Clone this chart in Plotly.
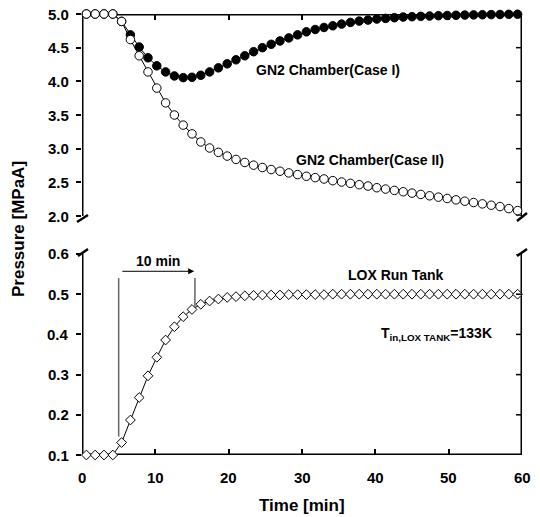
import plotly.graph_objects as go

# ---------------- data ----------------
time_min = [round(0.6 + 1.2 * k, 1) for k in range(50)]

case1_mpa = [5.0, 5.0, 5.0, 5.0, 4.89, 4.69, 4.51, 4.35, 4.23, 4.14,
             4.08, 4.055, 4.06, 4.09, 4.14, 4.20, 4.26, 4.32, 4.38, 4.44,
             4.50, 4.55, 4.60, 4.645, 4.69, 4.735, 4.77, 4.80, 4.825, 4.85,
             4.875, 4.895, 4.91, 4.925, 4.935, 4.945, 4.955, 4.96, 4.965, 4.97,
             4.975, 4.978, 4.981, 4.984, 4.987, 4.989, 4.991, 4.993, 4.995, 4.997]

case2_mpa = [5.0, 5.0, 5.0, 5.0, 4.89, 4.62, 4.38, 4.14, 3.90, 3.68,
             3.50, 3.35, 3.22, 3.10, 3.01, 2.945, 2.89, 2.84, 2.795, 2.755,
             2.72, 2.69, 2.665, 2.64, 2.615, 2.59, 2.57, 2.55, 2.525, 2.505,
             2.485, 2.465, 2.445, 2.42, 2.40, 2.38, 2.36, 2.34, 2.32, 2.30,
             2.28, 2.26, 2.24, 2.22, 2.20, 2.18, 2.16, 2.14, 2.11, 2.08]

lox_mpa = [0.1, 0.1, 0.1, 0.1, 0.131, 0.187, 0.243, 0.297, 0.343, 0.386,
           0.419, 0.444, 0.462, 0.475, 0.483, 0.488, 0.492, 0.494, 0.496, 0.497,
           0.498, 0.498, 0.498, 0.499, 0.499, 0.499, 0.499, 0.499, 0.5, 0.5,
           0.5, 0.5, 0.5, 0.5, 0.5, 0.5, 0.5, 0.5, 0.5, 0.5,
           0.5, 0.5, 0.5, 0.5, 0.5, 0.5, 0.5, 0.5, 0.5, 0.5]

x_ticks = [0, 10, 20, 30, 40, 50, 60]
top_ticks = [2.0, 2.5, 3.0, 3.5, 4.0, 4.5, 5.0]
bottom_ticks = [0.1, 0.2, 0.3, 0.4, 0.5, 0.6]

x_range = [0, 60]
top_range = [2.0, 5.0]
bottom_range = [0.1, 0.6]

# "10 min" guide (time, pressure)
guide_start = 5.0
guide_end = 15.4
guide_top = 0.54
guide_start_bottom = 0.146
guide_end_bottom = 0.467
arrow_y = 0.557

# ---------------- figure ----------------
OFF = 8  # page body margin
W, H = 540 - OFF, 517 - OFF
ML, MR, MT = 82 - OFF, 18, 14 - OFF
PW, PH = W - ML - MR, 441
MB = H - MT - PH


def paper(px, py):
    # px, py are window pixel positions
    return (px - OFF - ML) / PW, (MT + PH - (py - OFF)) / PH


top_dom = [paper(0, 216)[1], 1.0]
bot_dom = [0.0, paper(0, 254)[1]]

FONT = "Liberation Sans, Arial, sans-serif"

fig = go.Figure()

# panel frames (open-bottom box on top panel, open-top box on bottom panel)
fig.add_trace(go.Scatter(
    x=[x_range[0], x_range[0], x_range[1], x_range[1]],
    y=[top_range[0], top_range[1], top_range[1], top_range[0]],
    xaxis="x2", yaxis="y2", mode="lines",
    line=dict(color="black", width=3), cliponaxis=False,
    showlegend=False, hoverinfo="skip"))
fig.add_trace(go.Scatter(
    x=[x_range[0], x_range[0], x_range[1], x_range[1]],
    y=[bottom_range[1], bottom_range[0], bottom_range[0], bottom_range[1]],
    xaxis="x", yaxis="y", mode="lines",
    line=dict(color="black", width=3), cliponaxis=False,
    showlegend=False, hoverinfo="skip"))

fig.add_trace(go.Scatter(
    x=time_min, y=case1_mpa, xaxis="x2", yaxis="y2", mode="lines+markers",
    line=dict(color="black", width=1),
    marker=dict(symbol="circle", size=8.5, color="black",
                line=dict(color="black", width=1)),
    cliponaxis=False, showlegend=False))

fig.add_trace(go.Scatter(
    x=time_min, y=case2_mpa, xaxis="x2", yaxis="y2", mode="lines+markers",
    line=dict(color="black", width=1),
    marker=dict(symbol="circle", size=8.5, color="white",
                line=dict(color="black", width=1)),
    cliponaxis=False, showlegend=False))

fig.add_trace(go.Scatter(
    x=time_min, y=lox_mpa, xaxis="x", yaxis="y", mode="lines+markers",
    line=dict(color="black", width=1),
    marker=dict(symbol="diamond", size=7.5, color="white",
                line=dict(color="black", width=1)),
    cliponaxis=False, showlegend=False))

common_axis = dict(showline=False, showgrid=False, zeroline=False,
                   automargin=False, tickcolor="black", tickwidth=1.5,
                   showticklabels=False)

fig.update_layout(
    width=W, height=H,
    margin=dict(l=ML, r=MR, t=MT, b=MB),
    paper_bgcolor="white", plot_bgcolor="white",
    font=dict(family=FONT, color="black"),
    xaxis=dict(domain=[0, 1], range=x_range, anchor="y", side="bottom",
               tickvals=x_ticks, ticks="inside", ticklen=6, **common_axis),
    xaxis2=dict(domain=[0, 1], range=x_range, anchor="y2", side="top",
                tickvals=x_ticks, ticks="inside", ticklen=6, **common_axis),
    yaxis=dict(domain=bot_dom, range=bottom_range, anchor="x", side="left",
               tickvals=bottom_ticks, ticks="outside", ticklen=5,
               **common_axis),
    yaxis2=dict(domain=top_dom, range=top_range, anchor="x2", side="left",
                tickvals=top_ticks, ticks="outside", ticklen=5,
                **common_axis),
)

afont = dict(family=FONT, size=14, color="black", weight="bold")
tfont = dict(family=FONT, size=17, color="black", weight="bold")
kfont = dict(family=FONT, size=15, color="black", weight="bold")
annotations = [
    dict(x=33.5, y=4.17, xref="x2", yref="y2", text="<b>GN2 Chamber(Case I)</b>",
         showarrow=False, font=afont),
    dict(x=39.3, y=2.83, xref="x2", yref="y2", text="<b>GN2 Chamber(Case II)</b>",
         showarrow=False, font=afont),
    dict(x=42.75, y=0.548, xref="x", yref="y", text="<b>LOX Run Tank</b>",
         showarrow=False, font=afont),
    dict(x=48.3, y=0.402, xref="x", yref="y",
         text="<b>T<sub>in,LOX TANK</sub>=133K</b>", showarrow=False, font=afont),
    dict(x=10.4, y=0.583, xref="x", yref="y", text="<b>10 min</b>",
         showarrow=False, font=afont),
    dict(x=guide_end - 0.1, y=arrow_y, xref="x", yref="y",
         ax=guide_start + 0.3, ay=arrow_y, axref="x", ayref="y",
         text="", showarrow=True, arrowhead=2, arrowsize=1.2,
         arrowwidth=1, arrowcolor="black"),
    dict(x=paper(19, 0)[0], y=paper(0, 229)[1], xref="paper", yref="paper",
         xanchor="center", yanchor="middle",
         text="<b>Pressure [MPaA]</b>", textangle=-90, showarrow=False,
         font=tfont),
    dict(x=paper(302, 0)[0], y=paper(0, 505)[1], xref="paper", yref="paper",
         xanchor="center", yanchor="middle",
         text="<b>Time [min]</b>", showarrow=False, font=tfont),
]

# tick labels (bold) placed at the tick values
lab_x = paper(71, 0)[0]
for v in top_ticks:
    annotations.append(dict(x=lab_x, y=v, xref="paper", yref="y2",
                            xanchor="right", yanchor="middle",
                            text=f"<b>{v:.1f}</b>", showarrow=False,
                            font=kfont))
for v in bottom_ticks:
    annotations.append(dict(x=lab_x, y=v, xref="paper", yref="y",
                            xanchor="right", yanchor="middle",
                            text=f"<b>{v:.1f}</b>", showarrow=False,
                            font=kfont))
lab_y = paper(0, 477)[1]
for v in x_ticks:
    annotations.append(dict(x=v, y=lab_y, xref="x", yref="paper",
                            xanchor="center", yanchor="middle",
                            text=f"<b>{v}</b>", showarrow=False, font=kfont))
fig.update_layout(annotations=annotations)

shapes = [
    dict(type="line", xref="x", yref="y", x0=guide_start, x1=guide_start,
         y0=guide_start_bottom, y1=guide_top,
         line=dict(color="#666666", width=1.5)),
    dict(type="line", xref="x", yref="y", x0=guide_end, x1=guide_end,
         y0=guide_end_bottom, y1=guide_top,
         line=dict(color="#666666", width=1.5)),
]

# inward ticks on the right-hand axes
rt = 6 / PW
for v in top_ticks:
    shapes.append(dict(type="line", xref="x2 domain", yref="y2",
                       x0=1 - rt, x1=1, y0=v, y1=v,
                       line=dict(color="black", width=1.5)))
for v in bottom_ticks:
    shapes.append(dict(type="line", xref="x domain", yref="y",
                       x0=1 - rt, x1=1, y0=v, y1=v,
                       line=dict(color="black", width=1.5)))

# axis break marks
for (x0p, y0p, x1p, y1p) in [(77, 222, 88, 215), (78, 256, 88, 249),
                             (517, 221, 527, 213), (517, 256, 527, 249)]:
    a = paper(x0p, y0p)
    b = paper(x1p, y1p)
    shapes.append(dict(type="line", xref="paper", yref="paper",
                       x0=a[0], y0=a[1], x1=b[0], y1=b[1],
                       line=dict(color="black", width=2.5)))
fig.update_layout(shapes=shapes)

fig.write_html("out.html")
